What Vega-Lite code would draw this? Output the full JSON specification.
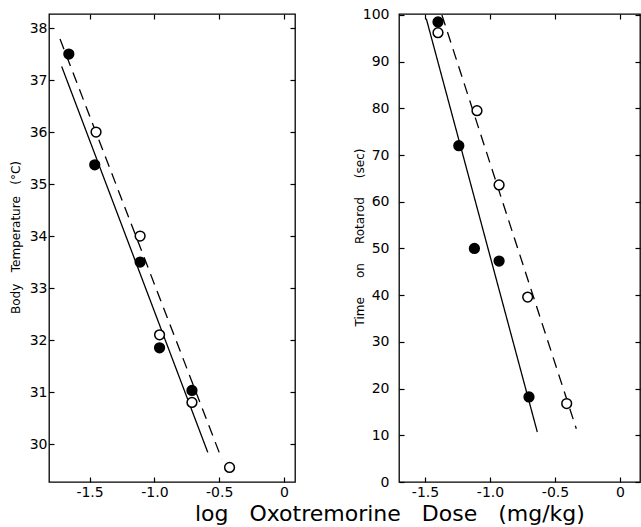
{
  "$schema": "https://vega.github.io/schema/vega-lite/v6.json",
  "autosize": {"type": "pad"},
  "padding": {"left": 8, "top": 7, "right": 0, "bottom": 0},
  "background": "white",
  "datasets": {
    "tempPoints": [
      {"dose": -1.66, "value": 37.5, "group": "closed"},
      {"dose": -1.46, "value": 35.37, "group": "closed"},
      {"dose": -1.11, "value": 33.5, "group": "closed"},
      {"dose": -0.96, "value": 31.85, "group": "closed"},
      {"dose": -0.71, "value": 31.03, "group": "closed"},
      {"dose": -1.45, "value": 36.0, "group": "open"},
      {"dose": -1.11, "value": 34.0, "group": "open"},
      {"dose": -0.96, "value": 32.1, "group": "open"},
      {"dose": -0.71, "value": 30.8, "group": "open"},
      {"dose": -0.42, "value": 29.55, "group": "open"}
    ],
    "tempLines": [
      {"dose": -1.715, "value": 37.26, "group": "closed"},
      {"dose": -0.588, "value": 29.84, "group": "closed"},
      {"dose": -1.728, "value": 37.79, "group": "open"},
      {"dose": -0.48, "value": 29.71, "group": "open"}
    ],
    "rotaPoints": [
      {"dose": -1.40, "value": 98.5, "group": "closed"},
      {"dose": -1.24, "value": 72.0, "group": "closed"},
      {"dose": -1.12, "value": 50.0, "group": "closed"},
      {"dose": -0.93, "value": 47.3, "group": "closed"},
      {"dose": -0.70, "value": 18.2, "group": "closed"},
      {"dose": -1.40, "value": 96.2, "group": "open"},
      {"dose": -1.10, "value": 79.5, "group": "open"},
      {"dose": -0.93, "value": 63.6, "group": "open"},
      {"dose": -0.71, "value": 39.6, "group": "open"},
      {"dose": -0.41, "value": 16.8, "group": "open"}
    ],
    "rotaLines": [
      {"dose": -1.49, "value": 99.2, "group": "closed"},
      {"dose": -0.636, "value": 10.7, "group": "closed"},
      {"dose": -1.37, "value": 100.0, "group": "open"},
      {"dose": -0.336, "value": 11.4, "group": "open"}
    ]
  },
  "title": {
    "text": "log\u00a0\u00a0\u00a0Oxotremorine\u00a0\u00a0\u00a0Dose\u00a0\u00a0\u00a0(mg/kg)",
    "orient": "bottom",
    "anchor": "middle",
    "font": "DejaVu Sans",
    "fontSize": 22,
    "fontWeight": "normal",
    "color": "black",
    "dx": 65,
    "offset": 4
  },
  "spacing": 104,
  "bounds": "flush",
  "hconcat": [
    {
      "width": 246,
      "height": 468,
      "resolve": {"axis": {"x": "independent", "y": "independent"}},
      "layer": [
        {
          "data": {"name": "tempLines"},
          "mark": {"type": "line", "color": "black", "strokeWidth": 1.3},
          "encoding": {
            "x": {"field": "dose", "type": "quantitative",
              "scale": {"domain": [-1.813, 0.085], "nice": false, "zero": false},
              "axis": {"orient": "top", "labels": false, "title": null, "values": [-1.5, -1.0, -0.5, 0]}},
            "y": {"field": "value", "type": "quantitative",
              "scale": {"domain": [29.27, 38.27], "nice": false, "zero": false},
              "axis": {"orient": "right", "labels": false, "title": null, "values": [30, 31, 32, 33, 34, 35, 36, 37, 38]}},
            "strokeDash": {"field": "group", "type": "nominal",
              "scale": {"domain": ["closed", "open"], "range": [[1, 0], [11, 7]]}, "legend": null}
          }
        },
        {
          "data": {"name": "tempPoints"},
          "mark": {"type": "circle", "size": 95, "stroke": "black", "strokeWidth": 1.5, "opacity": 1},
          "encoding": {
            "x": {"field": "dose", "type": "quantitative",
              "axis": {"orient": "bottom", "title": null, "values": [-1.5, -1.0, -0.5, 0], "labelPadding": 3,
                "labelExpr": "datum.value == 0 ? '0' : '-' + format(abs(datum.value), '.1f')"}},
            "y": {"field": "value", "type": "quantitative",
              "axis": {"orient": "left", "title": "Body\u00a0\u00a0\u00a0Temperature\u00a0\u00a0\u00a0(°C)", "titleY": 223, "labelPadding": 2, "titlePadding": 7,
                "values": [30, 31, 32, 33, 34, 35, 36, 37, 38]}},
            "fill": {"field": "group", "type": "nominal",
              "scale": {"domain": ["closed", "open"], "range": ["black", "white"]}, "legend": null}
          }
        }
      ]
    },
    {
      "width": 241,
      "height": 468,
      "resolve": {"axis": {"x": "independent", "y": "independent"}},
      "layer": [
        {
          "data": {"name": "rotaLines"},
          "mark": {"type": "line", "color": "black", "strokeWidth": 1.3},
          "encoding": {
            "x": {"field": "dose", "type": "quantitative",
              "scale": {"domain": [-1.70, 0.154], "nice": false, "zero": false},
              "axis": {"orient": "top", "labels": false, "title": null, "values": [-1.5, -1.0, -0.5, 0]}},
            "y": {"field": "value", "type": "quantitative",
              "scale": {"domain": [0, 100.2], "nice": false, "zero": false},
              "axis": {"orient": "right", "labels": false, "title": null, "values": [0, 10, 20, 30, 40, 50, 60, 70, 80, 90, 100]}},
            "strokeDash": {"field": "group", "type": "nominal",
              "scale": {"domain": ["closed", "open"], "range": [[1, 0], [11, 7]]}, "legend": null}
          }
        },
        {
          "data": {"name": "rotaPoints"},
          "mark": {"type": "circle", "size": 95, "stroke": "black", "strokeWidth": 1.5, "opacity": 1},
          "encoding": {
            "x": {"field": "dose", "type": "quantitative",
              "axis": {"orient": "bottom", "title": null, "values": [-1.5, -1.0, -0.5, 0], "labelPadding": 3,
                "labelExpr": "datum.value == 0 ? '0' : '-' + format(abs(datum.value), '.1f')"}},
            "y": {"field": "value", "type": "quantitative",
              "axis": {"orient": "left", "title": "Time\u00a0\u00a0\u00a0\u00a0\u00a0on\u00a0\u00a0\u00a0\u00a0\u00a0Rotarod\u00a0\u00a0\u00a0\u00a0\u00a0(sec)", "titleY": 223, "labelPadding": 10, "titlePadding": -4,
                "values": [0, 10, 20, 30, 40, 50, 60, 70, 80, 90, 100]}},
            "fill": {"field": "group", "type": "nominal",
              "scale": {"domain": ["closed", "open"], "range": ["black", "white"]}, "legend": null}
          }
        }
      ]
    }
  ],
  "config": {
    "view": {"stroke": "black", "strokeWidth": 1.3},
    "axis": {
      "domain": false,
      "grid": false,
      "ticks": true,
      "tickColor": "black",
      "tickSize": 5,
      "tickWidth": 1.2,
      "offset": -5,
      "labelFont": "DejaVu Sans",
      "labelFontSize": 14,
      "labelColor": "black",
      "titleFont": "DejaVu Sans",
      "titleFontWeight": "normal",
      "titleFontSize": 12,
      "titleColor": "black"
    }
  }
}
